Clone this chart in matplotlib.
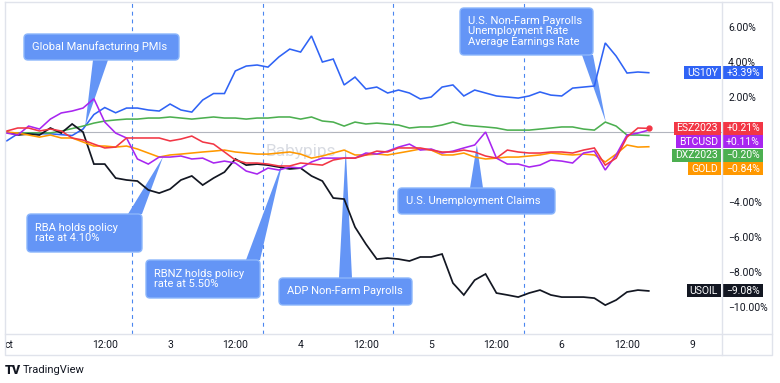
import numpy as np
import matplotlib
matplotlib.use('Agg')
import matplotlib.pyplot as plt
from matplotlib.patches import FancyBboxPatch, Polygon, Rectangle
from matplotlib.transforms import Affine2D
from matplotlib.lines import Line2D

plt.rcParams['font.family'] = ['Roboto', 'DejaVu Sans']

# hours counted from Oct 2 00:00 (weekend skipped, Oct 9 sits at 120)
hours = np.arange(-6, 113, 2)

us10y = [-0.5, -0.1, -0.05, -0.1, -0.1, -0.15, -0.2,
         0.17, 1.0, 1.4, 1.1, 1.37, 1.37, 1.26, 1.2, 1.6, 1.26, 1.14, 1.83,
         2.2, 2.2, 3.49, 3.77, 3.83, 3.71, 4.29, 4.74, 4.57, 5.49, 4.0, 4.17,
         2.69, 3.14, 2.46, 2.57, 2.23, 2.4, 2.23, 1.89, 2.0, 2.57, 2.69, 2.06,
         2.4, 2.23, 2.06, 2.0, 1.94, 2.06, 2.29, 2.11, 2.06, 2.51, 2.57, 2.63,
         5.09, 4.34, 3.37, 3.43, 3.39]
esz2023 = [0.06, 0.23, 0.23, 0.06, 0.17, 0.06, -0.34,
           -0.46, -0.69, -0.91, -0.86, -0.34, -0.34, -0.34, -0.34, -0.51, -0.4, -0.23, -0.57,
           -0.69, -1.14, -1.6, -1.77, -1.77, -1.83, -1.94, -1.94, -1.77, -1.83, -1.89, -1.6,
           -1.49, -1.49, -1.31, -1.09, -1.14, -0.91, -0.91, -0.91, -1.03, -1.14, -1.14, -1.03,
           -1.14, -1.37, -1.49, -1.03, -1.14, -1.2, -1.2, -1.14, -1.14, -1.2, -1.03, -0.91,
           -1.89, -1.49, -0.29, 0.23, 0.21]
btcusd = [-0.06, -0.17, 0.34, 0.17, 0.74, 1.09, 1.2,
          1.37, 1.9, 0.57, -0.06, -0.34, -1.54, -1.83, -1.43, -1.43, -1.37, -1.54, -1.49,
          -1.77, -1.66, -1.77, -2.23, -2.4, -2.06, -2.17, -2.0, -2.06, -1.71, -1.49, -1.49,
          -1.49, -1.49, -1.2, -1.26, -1.09, -0.86, -0.69, -1.03, -0.97, -1.2, -1.09, -0.91,
          -0.74, 0.0, -1.49, -1.83, -1.83, -2.0, -1.89, -1.6, -1.66, -1.77, -1.2, -1.09,
          -2.17, -1.31, -0.17, -0.06, 0.11]
dxz2023 = [-0.05, -0.05, -0.05, -0.05, -0.05, 0.05, 0.2,
           0.34, 0.51, 0.63, 0.69, 0.74, 0.74, 0.8, 0.8, 0.86, 0.8, 0.74, 0.8,
           0.86, 0.8, 0.8, 0.74, 0.8, 0.8, 0.86, 0.86, 0.74, 0.86, 0.63, 0.57,
           0.34, 0.57, 0.46, 0.51, 0.46, 0.4, 0.23, 0.29, 0.29, 0.4, 0.57, 0.4,
           0.34, 0.29, 0.23, 0.11, 0.11, 0.11, 0.17, 0.23, 0.29, 0.29, 0.17, 0.11,
           0.57, 0.34, -0.17, -0.17, -0.20]
gold = [0.0, -0.06, -0.17, -0.29, -0.17, -0.34, -0.34,
        -0.57, -0.8, -0.8, -0.86, -0.8, -0.97, -1.2, -1.43, -1.31, -1.26, -1.2, -1.14,
        -1.09, -1.03, -1.14, -1.2, -1.26, -1.26, -1.2, -1.14, -1.26, -1.49, -1.37, -1.2,
        -1.03, -1.31, -1.31, -1.26, -1.31, -1.2, -1.09, -0.97, -1.03, -1.31, -1.31, -1.2,
        -1.43, -1.54, -1.49, -1.43, -1.43, -1.37, -1.31, -1.2, -1.26, -1.31, -1.26, -1.31,
        -1.71, -1.26, -0.74, -0.86, -0.84]
usoil = [0.0, -0.17, -0.11, -0.17, 0.23, -0.06, 0.46,
         0.0, -1.83, -1.83, -2.63, -2.74, -2.8, -3.31, -3.49, -3.26, -2.74, -2.51, -3.03,
         -2.63, -2.29, -1.54, -1.89, -1.83, -1.89, -2.0, -2.11, -2.06, -2.51, -2.8, -3.77,
         -3.83, -5.43, -6.4, -7.26, -7.2, -7.26, -7.37, -7.14, -7.14, -6.97, -8.63, -9.31,
         -8.46, -8.11, -9.2, -9.31, -9.43, -9.2, -9.03, -9.31, -9.43, -9.43, -9.43, -9.49,
         -9.89, -9.6, -9.14, -9.03, -9.08]

names = ['US10Y', 'DXZ2023', 'USOIL', 'GOLD', 'BTCUSD', 'ESZ2023']
values = [us10y, dxz2023, usoil, gold, btcusd, esz2023]
colors = ['#2f63f5', '#4caf50', '#131722', '#ff9800', '#a826f0', '#f23645']

tick_hours = [-5.6, 12, 24, 36, 48, 60, 72, 84, 96, 108, 120]
tick_labels = ['ct', '12:00', '3', '12:00', '4', '12:00', '5', '12:00', '6', '12:00', '9']
y_ticks = [6, 4, 2, -4, -6, -8, -10]
session_hours = [17, 41, 65, 89]

events = ['Global Manufacturing PMIs', 'RBA holds policy\nrate at 4.10%',
          'RBNZ holds policy\nrate at 5.50%', 'ADP Non-Farm Payrolls',
          'U.S. Unemployment Claims',
          'U.S. Non-Farm Payrolls\nUnemployment Rate\nAverage Earnings Rate']
event_hours = [8.4, 22.7, 44.8, 56.3, 80.4, 104.1]
event_levels = [0.34, -1.43, -1.6, -0.91, -0.74, 0.57]

W, H = 780, 383
fig = plt.figure(figsize=(W / 100, H / 100), dpi=100)
ax = fig.add_axes([5 / W, (H - 334) / H, 717 / W, 332 / H])
px = Affine2D().scale(1, -1).translate(0, H)  # pixels, origin top-left

ax.set_xlim(-6.34, 125.46)
ax.set_ylim(-11.54, 7.43)
for s in ax.spines.values():
  s.set_visible(False)

ax.axhline(0, color='#b2b5be', lw=0.8, zorder=1)
for h in session_hours:
  ax.axvline(h, color='#4a86f0', lw=0.8, ls=(0, (3.5, 3.5)), zorder=1)

ax.text(48.1, -1.09, 'Babypips', color='#d8dbe2', fontsize=12.5,
        ha='center', va='center', zorder=0.5)

for i, (name, vals, c) in enumerate(zip(names, values, colors)):
  lw = 1.25 if name == 'USOIL' else 1.15
  ax.plot(hours, vals, color=c, lw=lw, zorder=3 + i * 0.1, solid_joinstyle='miter')
ax.plot(hours[-1], esz2023[-1], 'o', color='#f23645', ms=3.5, zorder=3.6)

ax.set_xticks(tick_hours, tick_labels)
ax.tick_params(axis='x', length=0, pad=4, labelsize=7.5, labelcolor='#131722')
ax.yaxis.tick_right()
ax.set_yticks(y_ticks, [f'{v:.2f}%'.replace('-', '\u2212') for v in y_ticks])
ax.tick_params(axis='y', length=0, pad=4.5, labelsize=7.5, labelcolor='#131722')

# callout boxes: left, top, width, height, wedge base x0, x1 (pixels)
boxes = [(24, 34, 155, 26, 93, 108),
         (27, 214, 115, 38, 128, 142),
         (146, 260, 114, 38, 246, 260),
         (279, 278, 133, 27, 339, 352),
         (398, 188, 157, 26, 470, 483),
         (460, 8, 133, 47, 582, 593)]
box_face = '#6495f6'
box_edge = '#8cb6fb'
for txt, eh, ev, (l, t, w, hgt, b0, b1) in zip(events, event_hours, event_levels, boxes):
  tx, ty = ax.transData.transform((eh, ev))
  ty = H - ty
  base_y = t + hgt if ty > t + hgt else t
  wedge = Polygon([(b0, base_y), (b1, base_y), (tx, ty)], closed=True,
                  transform=px, facecolor=box_face, edgecolor='none', zorder=2)
  ax.add_patch(wedge)
  box = FancyBboxPatch((l, t), w, hgt, boxstyle='round,pad=0,rounding_size=4',
                       transform=px, facecolor=box_face, edgecolor=box_edge,
                       lw=1, zorder=2.1)
  ax.add_patch(box)
  ax.text(l + 8, t + hgt / 2, txt, transform=px, color='white', fontsize=8,
          ha='left', va='center', linespacing=1.1, zorder=2.2)

# last value tags on the price scale
fig.canvas.draw()
rend = fig.canvas.get_renderer()
order = sorted(range(len(names)), key=lambda k: -values[k][-1])
prev = -100
for k in order:
  v = values[k][-1]
  y = H - ax.transData.transform((0, v))[1]
  y = max(y, prev + 13.4)
  prev = y
  t = fig.text(718, y, names[k], transform=px, color='white', fontsize=7.5,
               ha='right', va='center', zorder=3)
  wdt = t.get_window_extent(rend).width
  fig.add_artist(Rectangle((721 - wdt - 6, y - 6.5), wdt + 6, 13, transform=px,
                           facecolor=colors[k], edgecolor='none', zorder=2))
  fig.add_artist(Rectangle((723, y - 6.5), 40, 13, transform=px,
                           facecolor=colors[k], edgecolor='none', zorder=2))
  fig.text(743, y, f'{v:+.2f}%'.replace('-', '\u2212'), transform=px, color='white',
           fontsize=7.5, ha='center', va='center', zorder=3)

# chart frame
frame = '#e0e3eb'
fig.add_artist(Line2D([5, 772, 772, 5, 5], [2, 2, 355, 355, 2], transform=px, color=frame, lw=1))
fig.add_artist(Line2D([722, 722], [2, 355], transform=px, color=frame, lw=1))
fig.add_artist(Line2D([5, 772], [334, 334], transform=px, color=frame, lw=1))

fig.text(5, 370, 'TV', transform=px, fontsize=9, fontweight='heavy', color='#131722', va='center')
fig.text(23, 370, 'TradingView', transform=px, fontsize=8, color='#131722', va='center')

fig.savefig('out.png', dpi=100)
